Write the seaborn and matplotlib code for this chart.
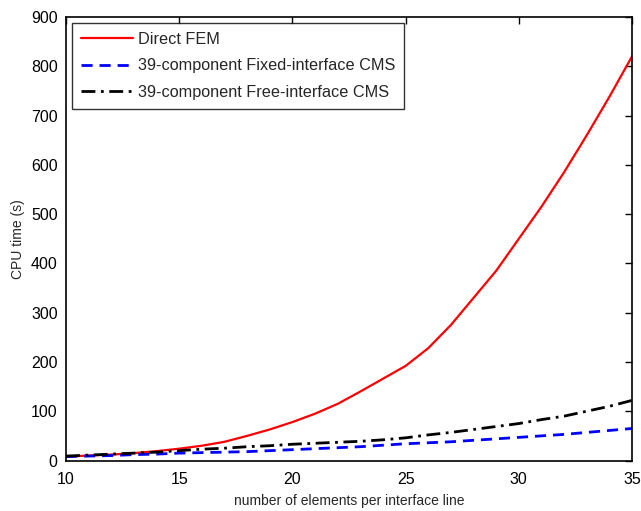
import matplotlib
matplotlib.use("Agg")
import matplotlib.pyplot as plt
import seaborn as sns
import pandas as pd

elements = list(range(10, 36))
direct_fem = [8, 10, 12, 15, 19, 24, 30, 38, 50, 63, 78, 95, 115, 140, 166, 192,
              228, 275, 330, 385, 450, 515, 585, 660, 738, 820]
fixed_cms = [8, 9, 10, 12, 13, 15, 16, 17, 18, 20, 22, 24, 26, 28, 31, 34,
             36, 38, 41, 44, 47, 50, 53, 57, 61, 65]
free_cms = [9, 11, 13, 15, 17, 20, 23, 25, 28, 30, 33, 35, 37, 39, 42, 46,
            52, 57, 63, 69, 75, 83, 90, 100, 110, 122]

labels = ["Direct FEM", "39-component Fixed-interface CMS", "39-component Free-interface CMS"]

df = pd.concat([
    pd.DataFrame({"x": elements, "y": direct_fem, "series": labels[0]}),
    pd.DataFrame({"x": elements, "y": fixed_cms, "series": labels[1]}),
    pd.DataFrame({"x": elements, "y": free_cms, "series": labels[2]}),
])

sns.set_style("white")
plt.rcParams["font.family"] = ["Liberation Sans", "DejaVu Sans"]

fig = plt.figure(figsize=(6.41, 5.11), dpi=100)
ax = fig.add_axes([0.103, 0.0988, 0.883, 0.868])

palette = {labels[0]: "#ff0000", labels[1]: "#0000ff", labels[2]: "#000000"}
sns.lineplot(data=df, x="x", y="y", hue="series", palette=palette, ax=ax, legend=False)

styles = [dict(ls="-", lw=1.6), dict(ls=(0, (4, 2.5)), lw=2.0), dict(ls=(0, (5, 2, 1, 2)), lw=2.0)]
for line, st, lab in zip(ax.get_lines(), styles, labels):
    line.set_linestyle(st["ls"])
    line.set_linewidth(st["lw"])
    line.set_label(lab)

ax.set_xlim(10, 35)
ax.set_ylim(0, 900)
ax.set_xticks([10, 15, 20, 25, 30, 35])
ax.set_yticks(range(0, 901, 100))
ax.tick_params(direction="in", length=5, width=1, top=True, right=True,
               labelsize=11.5, colors="black")
ax.tick_params(axis="x", pad=8)
ax.tick_params(axis="y", pad=6)
for s in ax.spines.values():
    s.set_visible(True)
    s.set_color("black")
    s.set_linewidth(1.2)

ax.set_xlabel("number of elements per interface line", fontsize=10, labelpad=5)
ax.set_ylabel("CPU time (s)", fontsize=10, labelpad=4)

leg = ax.legend(loc="upper left", fontsize=11.7, frameon=True, fancybox=False,
                edgecolor="black", borderpad=0.55, labelspacing=0.72,
                handlelength=3.2, handletextpad=0.3, borderaxespad=0.35)
leg.get_frame().set_linewidth(1.0)

fig.savefig("out.png", dpi=100)
